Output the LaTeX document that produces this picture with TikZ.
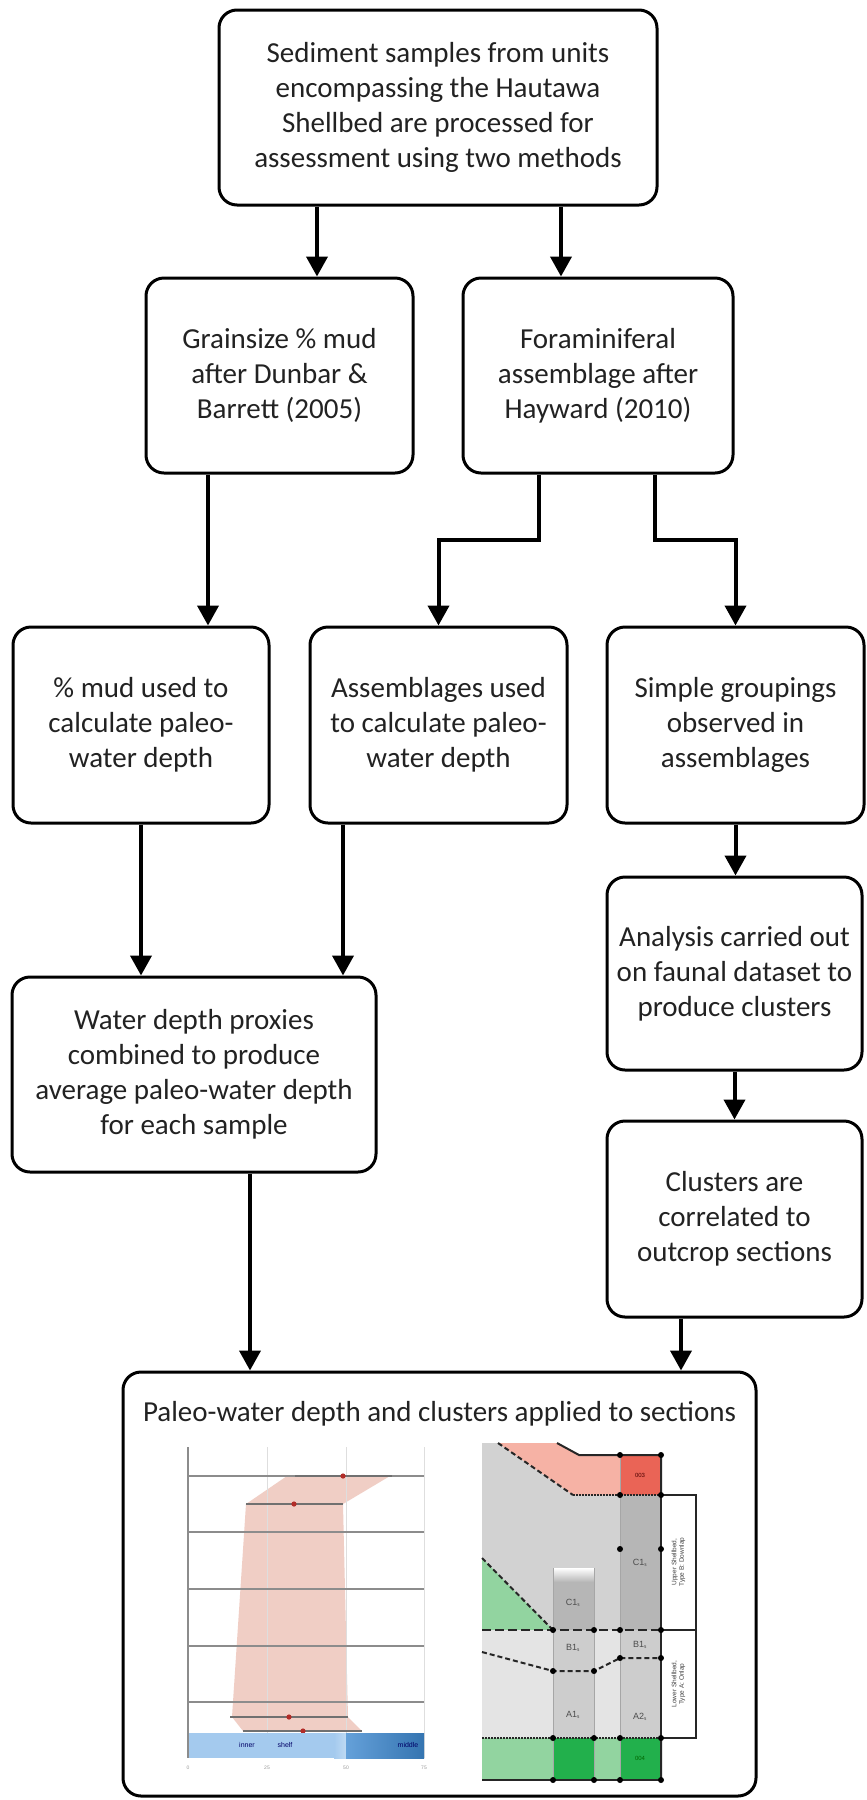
\documentclass[tikz,border=0pt]{standalone}
\usepackage{fontspec}
\setmainfont{Carlito}
\newfontfamily\plotfont{Liberation Sans}
\usepackage{tikz}
\usetikzlibrary{arrows.meta}
\definecolor{boxtext}{RGB}{34,34,34}
\definecolor{pinkfill}{RGB}{240,206,197}
\definecolor{pointred}{RGB}{178,44,40}
\definecolor{gridgray}{RGB}{140,140,140}
\definecolor{faintgray}{RGB}{222,222,222}
\definecolor{shelfblue}{RGB}{164,202,238}
\definecolor{midblue}{RGB}{62,137,208}
\definecolor{secgray}{RGB}{210,210,210}
\definecolor{seclight}{RGB}{228,228,228}
\definecolor{colgray}{RGB}{182,182,182}
\definecolor{colgraylow}{RGB}{205,205,205}
\definecolor{secpink}{RGB}{246,178,165}
\definecolor{secred}{RGB}{234,100,86}
\definecolor{greenlight}{RGB}{146,212,160}
\definecolor{greendark}{RGB}{34,176,76}
\tikzset{%
  tipF/.tip={Triangle[width=21pt,length=20pt]},
  stepbox/.style={draw=black, line width=3pt, rounded corners=18pt, fill=white,
    align=center, inner sep=0pt, text=boxtext, font=\fontsize{29}{35}\selectfont},
  flow/.style={line width=4pt, -tipF},
  plotlabel/.style={inner sep=0pt, font=\plotfont\fontsize{7}{8}\selectfont},
  seclabel/.style={inner sep=0pt, text=black!70, font=\plotfont\fontsize{9}{10}\selectfont},
  secline/.style={line width=2pt, black!85},
  secdash/.style={line width=2pt, black!85, dash pattern=on 5pt off 3pt},
  secdot/.style={line width=2.5pt, black!85, dash pattern=on 1.5pt off 1.5pt},
}

\begin{document}
\begin{tikzpicture}[x=1pt,y=-1pt]
\fill[white] (0,0) rectangle (867,1800);
\useasboundingbox (0,0) rectangle (867,1800);

\node[stepbox, minimum width=438pt, minimum height=195pt] (samples) at (438,107.5)
  {Sediment samples from units\\encompassing the Hautawa\\Shellbed are processed for\\assessment using two methods};
\node[stepbox, minimum width=267pt, minimum height=195pt] (grain) at (279.5,375.5)
  {Grainsize \% mud\\after Dunbar \&\\Barrett (2005)};
\node[stepbox, minimum width=270pt, minimum height=195pt] (foram) at (598,375.5)
  {Foraminiferal\\assemblage after\\Hayward (2010)};
\node[stepbox, minimum width=256pt, minimum height=196pt] (mudpct) at (141,725)
  {\% mud used to\\calculate paleo-\\water depth};
\node[stepbox, minimum width=257pt, minimum height=196pt] (assem) at (438.5,725)
  {Assemblages used\\to calculate paleo-\\water depth};
\node[stepbox, minimum width=257pt, minimum height=196pt] (groups) at (735.5,725)
  {Simple groupings\\observed in\\assemblages};
\node[stepbox, minimum width=364pt, minimum height=195pt] (combined) at (194,1074.5)
  {Water depth proxies\\combined to produce\\average paleo-water depth\\for each sample};
\node[stepbox, minimum width=255pt, minimum height=193pt] (analysis) at (734.5,973.5)
  {Analysis carried out\\on faunal dataset to\\produce clusters};
\node[stepbox, minimum width=255pt, minimum height=196pt] (clusters) at (734.5,1219)
  {Clusters are\\correlated to\\outcrop sections};
\node[stepbox, minimum width=633pt, minimum height=424pt] (applied) at (439.5,1584) {};
\node[anchor=base, inner sep=0pt, text=boxtext, font=\fontsize{29}{35}\selectfont] (appliedtitle)
  at ([yshift=-51pt]applied.north) {Paleo-water depth and clusters applied to sections};

\draw[flow] ([xshift=-121pt]samples.south) -- ([xshift=-121pt]samples.south |- grain.north);
\draw[flow] ([xshift=123pt]samples.south) -- ([xshift=123pt]samples.south |- foram.north);
\draw[flow] ([xshift=-71.5pt]grain.south) -- ([xshift=-71.5pt]grain.south |- mudpct.north);
\draw[flow] ([xshift=-59pt]foram.south) -- ++(0,65) -| (assem.north);
\draw[flow] ([xshift=57pt]foram.south) -- ++(0,65) -| (groups.north);
\draw[flow] (mudpct.south) -- (mudpct.south |- combined.north);
\draw[flow] ([xshift=-95.5pt]assem.south) -- ([xshift=-95.5pt]assem.south |- combined.north);
\draw[flow] (groups.south) -- (groups.south |- analysis.north);
\draw[flow] (analysis.south) -- (clusters.north);
\draw[flow] ([xshift=56pt]combined.south) -- ([xshift=56pt]combined.south |- applied.north);
\draw[flow] ([xshift=-53.5pt]clusters.south) -- ([xshift=-53.5pt]clusters.south |- applied.north);

% water depth profile
\fill[pinkfill] (287,1476) -- (390,1476) -- (343,1504) -- (348,1717) -- (362,1731)
  -- (243,1731) -- (232,1717) -- (246,1504) -- cycle;
\foreach \gx in {267,346,424}
  \draw[faintgray, line width=1pt] (\gx,1447) -- (\gx,1758);
\foreach \gy in {1476,1532,1589,1646,1702}
  \draw[gridgray, line width=1.5pt] (188,\gy) -- (424,\gy);
\draw[gridgray!80!black, line width=1.2pt] (295,1476) -- (392,1476);
\draw[gridgray!80!black, line width=1.2pt] (246,1504) -- (343,1504);
\draw[gridgray!80!black, line width=1.2pt] (230,1717) -- (348,1717);
\draw[gridgray!80!black, line width=1.2pt] (243,1731) -- (362,1731);
\foreach \px/\py in {343/1476,294/1504,289/1717,303/1731}
  \fill[pointred] (\px,\py) circle (2.6pt);
\fill[shelfblue] (188,1733) rectangle (334,1758);
\shade[left color=shelfblue, right color=shelfblue!70!white] (334,1733) rectangle (346,1758);
\shade[left color=midblue!80!white, right color=midblue!85!black] (346,1733) rectangle (424,1758);
\draw[gridgray, line width=1.5pt] (188,1447) -- (188,1758);
\node[plotlabel, text=black!60!blue] (lblinner) at (247,1745) {inner};
\node[plotlabel, text=black!60!blue] (lblshelf) at (285,1745) {shelf};
\node[plotlabel, text=black!60!blue] (lblmiddle) at (408,1745) {middle};
\foreach \tx/\tl in {188/0,267/25,346/50,424/75}
  \node[inner sep=0pt, text=black!40, font=\plotfont\fontsize{5}{6}\selectfont] (tick\tl) at (\tx,1768) {\tl};

% cluster section
\fill[secgray] (482,1443) -- (498,1443) -- (573,1495) -- (620,1495) -- (620,1630) -- (482,1630) -- cycle;
\fill[secpink] (498,1443) -- (573,1495) -- (620,1495) -- (620,1455) -- (579,1455) -- (557,1443) -- cycle;
\fill[secred] (620,1455) rectangle (661,1495);
\fill[colgray] (620,1495) rectangle (661,1630);
\fill[greenlight] (482,1558) -- (553,1630) -- (482,1630) -- cycle;
\fill[colgray] (553,1568) rectangle (594,1630);
\shade[top color=white, bottom color=colgray] (553,1568) rectangle (594,1582);
\fill[seclight] (482,1630) rectangle (661,1738);
\fill[colgraylow] (553,1630) rectangle (594,1738);
\fill[colgraylow] (620,1630) rectangle (661,1738);
\fill[greenlight] (482,1738) rectangle (661,1780);
\fill[greendark] (553,1738) rectangle (594,1780);
\fill[greendark] (620,1738) rectangle (661,1780);
\draw[black!35, line width=0.8pt] (553,1568) -- (553,1780) (594,1568) -- (594,1780) (620,1455) -- (620,1780);
\draw[secline] (557,1443) -- (579,1455) -- (661,1455) -- (661,1780);
\draw[secdash] (498,1443) -- (573,1495);
\draw[secdot] (573,1495) -- (661,1495);
\draw[secdash] (482,1558) -- (553,1630);
\draw[secdash, dash pattern=on 9pt off 4pt] (482,1630) -- (661,1630);
\draw[secdash] (482,1652) -- (553,1671) -- (594,1671) -- (620,1658) -- (661,1658);
\draw[secdot] (482,1738) -- (661,1738);
\draw[secline] (482,1780) -- (661,1780);
\draw[black!85, line width=1.6pt, fill=white] (661,1495) rectangle (696,1738);
\draw[black!85, line width=1.6pt] (661,1630) -- (696,1630);
\foreach \dx/\dy in {620/1455,661/1455,620/1495,661/1495,620/1549,661/1549,
    553/1630,594/1630,620/1630,661/1630,553/1671,594/1671,620/1658,661/1658,
    553/1738,594/1738,620/1738,661/1738,553/1780,594/1780,620/1780,661/1780}
  \fill[black] (\dx,\dy) circle (3pt);
\node[plotlabel, text=black!70!red, font=\plotfont\fontsize{6}{7}\selectfont] (lbltop) at (640,1475) {003};
\node[plotlabel, text=black!60!green, font=\plotfont\fontsize{6}{7}\selectfont] (lblbase) at (640,1758) {004};
\node[seclabel] (lblcright) at (640,1563) {C1$_\mathrm{s}$};
\node[seclabel] (lblcmid) at (573,1603) {C1$_\mathrm{s}$};
\node[seclabel] (lblbmid) at (573,1648) {B1$_\mathrm{s}$};
\node[seclabel] (lblbright) at (640,1645) {B1$_\mathrm{s}$};
\node[seclabel] (lblamid) at (573,1715) {A1$_\mathrm{s}$};
\node[seclabel] (lblaright) at (640,1717) {A2$_\mathrm{s}$};
\node[rotate=90, align=center, inner sep=0pt, text=black!75, font=\plotfont\fontsize{6.5}{7.5}\selectfont]
  (lblupper) at (678.5,1562) {Upper Shellbed,\\Type B: Downlap};
\node[rotate=90, align=center, inner sep=0pt, text=black!75, font=\plotfont\fontsize{6.5}{7.5}\selectfont]
  (lbllower) at (678.5,1684) {Lower Shellbed,\\Type A: Onlap};
\end{tikzpicture}
\end{document}
